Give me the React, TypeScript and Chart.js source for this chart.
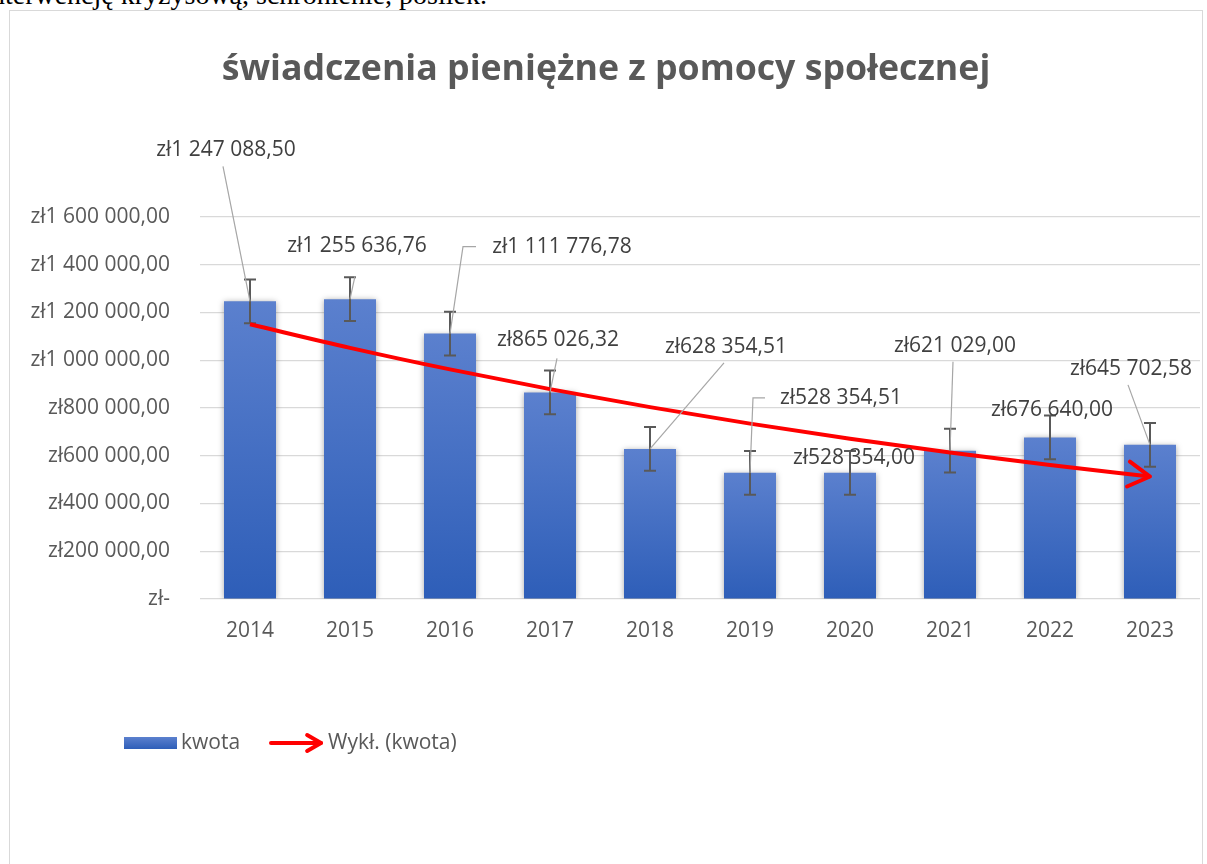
import React, { useEffect, useRef } from "react";
import { Chart, registerables } from "chart.js";

Chart.register(...registerables);

// ---------- data ----------
const YEARS = ["2014", "2015", "2016", "2017", "2018", "2019", "2020", "2021", "2022", "2023"];
const KWOTA = [1247088.5, 1255636.76, 1111776.78, 865026.32, 628354.51, 528354.51, 528354.0, 621029.0, 676640.0, 645702.58];
// exponential trend line values
const TREND = [1150800, 1052000, 961700, 879100, 803600, 734600, 671500, 613900, 561200, 513000];
// half-length of the (standard error) error bars
const ERROR_AMOUNT = 91640;
const Y_MIN = 0;
const Y_MAX = 1600000;
const Y_STEP = 200000;
const TITLE = "świadczenia pieniężne z pomocy społecznej";
const SERIES_LABEL = "kwota";
const TREND_LABEL = "Wykł. (kwota)";
const PAGE_TEXT = "interwencję kryzysową, schronienie, posiłek.";

// ---------- style / layout ----------
const FONT = '"Open Sans", "DejaVu Sans", sans-serif';
const AXIS_COLOR = "#595959";
const LABEL_COLOR = "#404040";
const GRID_COLOR = "#d9d9d9";
const BAR_TOP = "#5b80ce";
const BAR_BOTTOM = "#2e5eb8";
const TREND_COLOR = "#ff0000";
const TEXT_SIZE = 21;

// data-label placement (offset of text centre from the bar top, leader line points)
const LABEL_LAYOUT: { dx: number; dy: number; leader: number[][] | null }[] = [
  { dx: -24, dy: -151, leader: [[-27, -135]] },
  { dx: 7, dy: -53, leader: [[5, -23]] },
  { dx: 112, dy: -87, leader: [[26, -87], [13, -87]] },
  { dx: 8, dy: -52, leader: [[7, -34]] },
  { dx: 76, dy: -102, leader: [[74, -86]] },
  { dx: 91, dy: -75, leader: [[15, -75], [3, -75]] },
  { dx: 4, dy: -15, leader: null },
  { dx: 5, dy: -105, leader: [[3, -89]] },
  { dx: 2, dy: -27, leader: null },
  { dx: -19, dy: -76, leader: [[-22, -60]] },
];

function formatZl(v: number): string {
  if (v === 0) return "zł-";
  const [intPart, dec] = v.toFixed(2).split(".");
  const grouped = intPart.replace(/\B(?=(\d{3})+(?!\d))/g, " ");
  return "zł" + grouped + "," + dec;
}

function drawArrowHead(ctx: CanvasRenderingContext2D, x: number, y: number, angle: number, len: number) {
  const spread = (30 * Math.PI) / 180;
  ctx.beginPath();
  ctx.moveTo(x - len * Math.cos(angle - spread), y - len * Math.sin(angle - spread));
  ctx.lineTo(x, y);
  ctx.lineTo(x - len * Math.cos(angle + spread), y - len * Math.sin(angle + spread));
  ctx.stroke();
}

const overlayPlugin = {
  id: "overlay",
  beforeDatasetDraw(chart: any, args: any) {
    if (args.index !== 0) return;
    const ctx = chart.ctx;
    ctx.save();
    ctx.shadowColor = "rgba(0,0,0,0.35)";
    ctx.shadowBlur = 6;
    ctx.shadowOffsetX = 0;
    ctx.shadowOffsetY = 1;
  },
  afterDatasetDraw(chart: any, args: any) {
    if (args.index !== 0) return;
    const ctx = chart.ctx;
    ctx.restore();
    const meta = chart.getDatasetMeta(0);
    const ys = chart.scales.y;
    ctx.save();
    ctx.strokeStyle = "#595959";
    ctx.lineWidth = 2;
    meta.data.forEach((bar: any, i: number) => {
      const x = Math.round(bar.x);
      const yTop = ys.getPixelForValue(KWOTA[i] + ERROR_AMOUNT);
      const yBot = ys.getPixelForValue(KWOTA[i] - ERROR_AMOUNT);
      ctx.beginPath();
      ctx.moveTo(x, yTop);
      ctx.lineTo(x, yBot);
      ctx.moveTo(x - 6, yTop);
      ctx.lineTo(x + 6, yTop);
      ctx.moveTo(x - 6, yBot);
      ctx.lineTo(x + 6, yBot);
      ctx.stroke();
    });
    ctx.restore();
  },
  afterDatasetsDraw(chart: any) {
    const ctx = chart.ctx;
    const ys = chart.scales.y;
    // arrow head on trend line
    const lineMeta = chart.getDatasetMeta(1);
    const pts = lineMeta.data;
    const last = pts[pts.length - 1];
    const prev = pts[pts.length - 2];
    const angle = Math.atan2(last.y - prev.y, last.x - prev.x);
    ctx.save();
    ctx.strokeStyle = TREND_COLOR;
    ctx.lineWidth = 4;
    ctx.lineCap = "round";
    ctx.lineJoin = "round";
    drawArrowHead(ctx, last.x, last.y, angle, 25);
    ctx.restore();

    // data labels with leader lines
    const barMeta = chart.getDatasetMeta(0);
    ctx.save();
    ctx.font = `${TEXT_SIZE}px ${FONT}`;
    ctx.textAlign = "center";
    ctx.textBaseline = "middle";
    barMeta.data.forEach((bar: any, i: number) => {
      const px = bar.x;
      const py = ys.getPixelForValue(KWOTA[i]);
      const lay = LABEL_LAYOUT[i];
      if (lay.leader) {
        ctx.strokeStyle = "#a6a6a6";
        ctx.lineWidth = 1.2;
        ctx.beginPath();
        lay.leader.forEach((p, k) => {
          if (k === 0) ctx.moveTo(px + p[0], py + p[1]);
          else ctx.lineTo(px + p[0], py + p[1]);
        });
        ctx.lineTo(px, py);
        ctx.stroke();
      }
      ctx.fillStyle = LABEL_COLOR;
      ctx.fillText(formatZl(KWOTA[i]), px + lay.dx, py + lay.dy);
    });
    ctx.restore();
  },
  afterDraw(chart: any) {
    const ctx = chart.ctx;
    ctx.save();
    // title
    ctx.fillStyle = AXIS_COLOR;
    ctx.font = `bold 35.7px ${FONT}`;
    ctx.textAlign = "center";
    ctx.textBaseline = "middle";
    ctx.fillText(TITLE, 606, 70);

    // legend
    const ly = 743;
    const g = ctx.createLinearGradient(0, ly - 6, 0, ly + 6);
    g.addColorStop(0, BAR_TOP);
    g.addColorStop(1, BAR_BOTTOM);
    ctx.fillStyle = g;
    ctx.fillRect(124, ly - 6, 53, 12);
    ctx.fillStyle = AXIS_COLOR;
    ctx.font = `${TEXT_SIZE}px ${FONT}`;
    ctx.textAlign = "left";
    ctx.fillText(SERIES_LABEL, 181, ly);
    ctx.strokeStyle = TREND_COLOR;
    ctx.lineWidth = 4;
    ctx.lineCap = "round";
    ctx.lineJoin = "round";
    ctx.beginPath();
    ctx.moveTo(271, ly);
    ctx.lineTo(321, ly);
    ctx.stroke();
    drawArrowHead(ctx, 321, ly, 0, 16);
    ctx.fillText(TREND_LABEL, 328, ly);
    ctx.restore();
  },
};

export default function App() {
  const ref = useRef<HTMLCanvasElement>(null);

  useEffect(() => {
    if (!ref.current) return;
    const chart = new Chart(ref.current, {
      type: "bar",
      data: {
        labels: YEARS,
        datasets: [
          {
            type: "bar",
            label: SERIES_LABEL,
            data: KWOTA,
            order: 1,
            barPercentage: 0.52,
            categoryPercentage: 1,
            backgroundColor: (c: any) => {
              const chart = c.chart;
              if (!chart.chartArea || c.type !== "data") return BAR_BOTTOM;
              const ys = chart.scales.y;
              const top = ys.getPixelForValue(KWOTA[c.dataIndex]);
              const bottom = ys.getPixelForValue(0);
              const grad = chart.ctx.createLinearGradient(0, top, 0, bottom);
              grad.addColorStop(0, BAR_TOP);
              grad.addColorStop(1, BAR_BOTTOM);
              return grad;
            },
          } as any,
          {
            type: "line",
            label: TREND_LABEL,
            data: TREND,
            order: 0,
            borderColor: TREND_COLOR,
            borderWidth: 4,
            pointRadius: 0,
            cubicInterpolationMode: "monotone",
            fill: false,
          } as any,
        ],
      },
      options: {
        responsive: false,
        animation: false,
        devicePixelRatio: 1,
        events: [],
        layout: { padding: { left: 10, right: 7, top: 217, bottom: 215 } },
        plugins: {
          legend: { display: false },
          title: { display: false },
          tooltip: { enabled: false },
        },
        scales: {
          x: {
            grid: { display: false },
            border: { display: false },
            ticks: { color: AXIS_COLOR, font: { family: FONT, size: TEXT_SIZE }, padding: 11 },
            afterFit: (s: any) => {
              s.height = 50;
            },
          },
          y: {
            min: Y_MIN,
            max: Y_MAX,
            grid: { color: GRID_COLOR, drawTicks: false, lineWidth: 1.2 },
            border: { display: false },
            ticks: {
              stepSize: Y_STEP,
              color: AXIS_COLOR,
              font: { family: FONT, size: TEXT_SIZE },
              padding: 30,
              callback: (v: any) => formatZl(Number(v)),
            },
            afterFit: (s: any) => {
              s.width = 190;
            },
          },
        },
      },
      plugins: [overlayPlugin],
    } as any);
    return () => chart.destroy();
  }, []);

  return (
    <div style={{ position: "absolute", left: 0, top: 0, width: 1207, height: 864, overflow: "hidden", background: "#fff" }}>
      <div
        style={{
          position: "absolute",
          right: 720,
          top: -19.5,
          whiteSpace: "nowrap",
          fontFamily: '"Liberation Serif", "Times New Roman", serif',
          fontSize: 28,
          lineHeight: "28px",
          color: "#000",
        }}
      >
        {PAGE_TEXT}
      </div>
      <div
        style={{
          position: "absolute",
          left: 9,
          top: 10,
          width: 1194,
          height: 900,
          border: "1.5px solid #d9d9d9",
          boxSizing: "border-box",
          background: "#fff",
        }}
      />
      <canvas ref={ref} width={1207} height={864} style={{ position: "absolute", left: 0, top: 0, width: 1207, height: 864 }} />
    </div>
  );
}
